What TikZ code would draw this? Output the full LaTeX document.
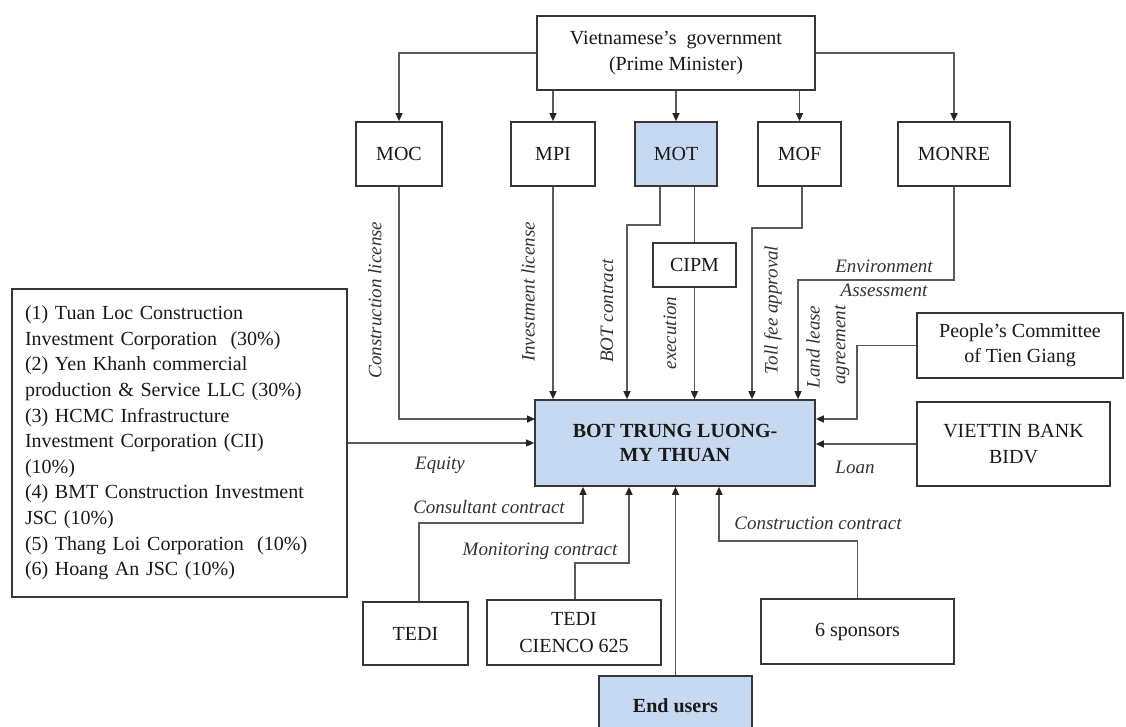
\documentclass[tikz,border=0pt]{standalone}
\usepackage{fontspec}
\setmainfont{Liberation Serif}
\usetikzlibrary{arrows.meta}
\definecolor{boxblue}{RGB}{198,217,241}
\definecolor{edgegray}{RGB}{55,55,55}
\definecolor{wiregray}{RGB}{90,90,90}
\definecolor{labgray}{RGB}{50,50,50}
\definecolor{txtgray}{RGB}{25,25,25}
\begin{document}
\begin{tikzpicture}[x=1pt,y=-1pt,
  box/.style={draw=edgegray,line width=1.7pt,fill=white,inner sep=0pt,align=center,
    text=txtgray,font=\fontsize{20}{26}\selectfont},
  hub/.style={box,fill=boxblue},
  wire/.style={draw=wiregray,line width=1.4pt},
  arr/.style={wire,-{Triangle[length=8pt,width=7pt,color=black!85]}},
  lab/.style={font=\fontsize{19}{24}\selectfont\itshape,text=labgray,inner sep=0pt,align=center},
  vlab/.style={lab,rotate=90}]
\useasboundingbox (0,0) rectangle (1126,726);

% ---- authorities ----
\node[box,minimum width=278pt,minimum height=74pt] (gov) at (676,53)
  {Vietnamese's\ \ government\\(Prime Minister)};
\node[box,minimum width=86pt,minimum height=64pt] (moc) at (399,154) {MOC};
\node[box,minimum width=84pt,minimum height=64pt] (mpi) at (553,154) {MPI};
\node[hub,minimum width=82pt,minimum height=64pt] (mot) at (676,154) {MOT};
\node[box,minimum width=83pt,minimum height=64pt] (mof) at (799.5,154) {MOF};
\node[box,minimum width=112pt,minimum height=64pt] (monre) at (954,154) {MONRE};
\node[box,minimum width=83pt,minimum height=44pt] (cipm) at (694.5,265) {CIPM};

% ---- project company ----
\node[hub,minimum width=280pt,minimum height=86pt,font=\fontsize{20}{24}\selectfont\bfseries]
  (bot) at (675,443) {BOT TRUNG LUONG-\\MY THUAN};

% ---- shareholders ----
\node[box,minimum width=335pt,minimum height=308pt,align=left,text width=309pt,
  inner xsep=13pt,font=\fontsize{20}{25.6}\selectfont] (share) at (179.5,443)
  {(1) Tuan Loc Construction\\
   Investment Corporation\ \ (30\%)\\
   (2) Yen Khanh commercial\\
   production \& Service LLC (30\%)\\
   (3) HCMC Infrastructure\\
   Investment Corporation (CII)\\
   (10\%)\\
   (4) BMT Construction Investment\\
   JSC (10\%)\\
   (5) Thang Loi Corporation\ \ (10\%)\\
   (6) Hoang An JSC (10\%)};

% ---- right side partners ----
\node[box,minimum width=206pt,minimum height=65pt,font=\fontsize{20}{25}\selectfont] (pc) at (1020,345.5)
  {People's Committee\\of Tien Giang};
\node[box,minimum width=193pt,minimum height=84pt] (bank) at (1013.5,444)
  {VIETTIN BANK\\BIDV};

% ---- contractors and users ----
\node[box,minimum width=105pt,minimum height=63pt] (tedi) at (415.5,633.5) {TEDI};
\node[box,minimum width=174pt,minimum height=65pt,font=\fontsize{20}{27}\selectfont] (tedic) at (574,632.5)
  {TEDI\\CIENCO 625};
\node[box,minimum width=193pt,minimum height=65pt] (spons) at (857.5,631.5) {6 sponsors};
\node[hub,minimum width=153pt,minimum height=60pt,font=\fontsize{20}{26}\selectfont\bfseries]
  (users) at (675.5,706) {End users};

% ---- bend points ----
\coordinate (mocIn)   at (535,419);
\coordinate (botBend) at (627,225);
\coordinate (tollBend) at (752,228);
\coordinate (envBend) at (798,280);
\coordinate (landBend) at (857,419);
\coordinate (consBend) at (583,523);
\coordinate (monBend) at (629,563);
\coordinate (conBend) at (719,541);

% ---- government to ministries ----
\draw[arr] (gov.west) -| (moc.north);
\draw[arr] (gov.east) -| (monre.north);
\draw[arr] (mpi.north |- gov.south) -- (mpi.north);
\draw[arr] (mot.north |- gov.south) -- (mot.north);
\draw[arr] (mof.north |- gov.south) -- (mof.north);

% ---- flows into the project company ----
\draw[arr] (moc.south) |- (mocIn);
\draw[arr] (share.east) -- (bot.west);
\draw[arr] (mpi.south) -- (mpi.south |- bot.north);
\draw[arr] ([xshift=-16pt]mot.south) |- (botBend) -- (botBend |- bot.north);
\draw[wire] (mot.south -| cipm.north) -- (cipm.north);
\draw[arr] (cipm.south) -- (cipm.south |- bot.north);
\draw[arr] ([xshift=2.5pt]mof.south) |- (tollBend) -- (tollBend |- bot.north);
\draw[arr] (monre.south) |- (envBend) -- (envBend |- bot.north);
\draw[arr] (pc.west) -| (landBend) -- (landBend -| bot.east);
\draw[arr] (bank.west) -- (bank.west -| bot.east);
\draw[arr] ([xshift=3.5pt]tedi.north) |- (consBend) -- (consBend |- bot.south);
\draw[arr] ([xshift=1pt]tedic.north) |- (monBend) -- (monBend |- bot.south);
\draw[arr] (users.north) -- (users.north |- bot.south);
\draw[arr] (spons.north) |- (conBend) -- (conBend |- bot.south);

% ---- connector labels ----
\node[vlab] (lcl) at (375,300) {Construction license};
\node[vlab] (lil) at (528,292) {Investment license};
\node[vlab] (lbc) at (607,311) {BOT contract};
\node[vlab] (lex) at (670,333) {execution};
\node[vlab] (ltf) at (773,310) {Toll fee approval};
\node[vlab] (lll) at (813,347) {Land lease};
\node[vlab] (lag) at (842,345) {agreement};
\node[lab] (lenv) at (884,278) {Environment\\Assessment};
\node[lab] (leq) at (440,465) {Equity};
\node[lab] (llo) at (855,467) {Loan};
\node[lab] (lcc) at (489,507) {Consultant contract};
\node[lab] (lmc) at (540,551) {Monitoring contract};
\node[lab] (lct) at (818,523) {Construction contract};
\end{tikzpicture}
\end{document}
